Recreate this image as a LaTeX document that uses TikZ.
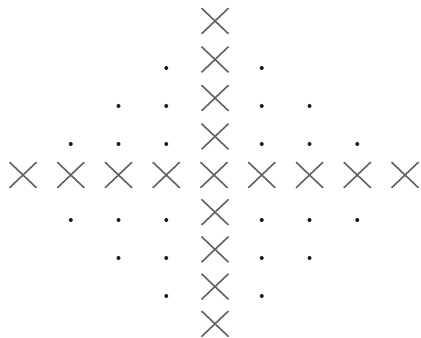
\documentclass[tikz,border=0pt]{standalone}
\usetikzlibrary{shapes.misc}
\begin{document}
\begin{tikzpicture}[
  x=0.75pt, y=-0.75pt,
  xmark/.style   = {cross out, draw=black!62, line width=1.2pt,
                    minimum width=19pt, minimum height=18pt, inner sep=0pt},
  dotmark/.style = {circle, fill=black!90, minimum size=3pt, inner sep=0pt}
]
\useasboundingbox (0,0) rectangle (421,338);

%% --- horizontal row of crosses --------------------------------
\foreach \i in {-4,...,4}
  \node[xmark] (h\i) at ({214+47.75*\i},175) {};

%% --- vertical column of crosses -------------------------------
\foreach \j in {-4,-3,-2,-1}
  \node[xmark] (v\j) at (215,{175+38.5*\j}) {};
\foreach \j in {1,2,3,4}
  \node[xmark] (v\j) at (215,{175+37.2*\j}) {};

%% --- dots filling the four quadrants --------------------------
\foreach \sx/\qx in {-1/l,1/r}
  \foreach \sy/\qy in {-1/t,1/b}
    \foreach \j/\n in {1/3,2/2,3/1}
      \foreach \i in {1,...,\n}
        \node[dotmark] (d\qx\qy\i\j) at ({214+47.75*\sx*\i},{175+38*\sy*\j+7}) {};

\end{tikzpicture}
\end{document}
